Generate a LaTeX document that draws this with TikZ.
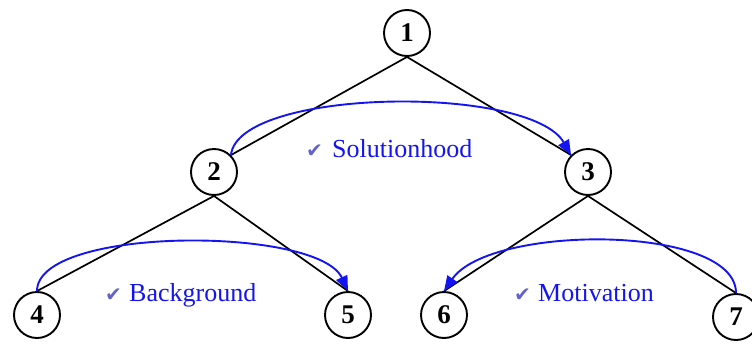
\documentclass[tikz,border=0pt]{standalone}
\usepackage{fontspec}
\setmainfont{Liberation Serif}
\newfontfamily\checkfont{DejaVu Sans}
\usetikzlibrary{arrows.meta}
\definecolor{checkc}{RGB}{100,100,200}
\definecolor{relblue}{RGB}{20,20,240}
\tikzset{
  treenode/.style={circle,draw=black,line width=1.9pt,minimum size=46pt,inner sep=0pt,
    font=\fontsize{27}{30}\selectfont\bfseries},
  treeedge/.style={draw=black,line width=1.7pt},
  relarrow/.style={draw=relblue,line width=1.9pt,-{Triangle[length=15pt,width=12pt]}},
  reltext/.style={anchor=base west,inner sep=0pt,text=relblue,font=\fontsize{26}{30}\selectfont},
  relcheck/.style={anchor=base east,inner sep=0pt,text=checkc,font=\checkfont\fontsize{20}{22}\selectfont}
}
\begin{document}
\begin{tikzpicture}[x=1pt,y=-1pt]
\useasboundingbox (0,0) rectangle (752,343);
% nodes
\node[treenode] (n1) at (407,33) {1};
\node[treenode] (n2) at (214,172) {2};
\node[treenode] (n3) at (588,172) {3};
\node[treenode] (n4) at (37,315) {4};
\node[treenode] (n5) at (348,315) {5};
\node[treenode] (n6) at (444,315) {6};
\node[treenode] (n7) at (736,317) {7};
% tree edges
\draw[treeedge] (n1.south) -- (n2.north east);
\draw[treeedge] (n1.south) -- (n3.north west);
\draw[treeedge] (n2.south) -- (n4.north);
\draw[treeedge] (n2.south) -- (n5.north);
\draw[treeedge] (n3.south) -- (n6.north);
\draw[treeedge] (n3.south) -- (n7.north);
% relation arrows
\draw[relarrow] (n2.north east) .. controls (238,88) and (530,84) .. (n3.north west);
\draw[relarrow] (n4.north) .. controls (37,226) and (318,226) .. (n5.north);
\draw[relarrow] (n7.north) .. controls (736,224) and (490,224) .. (n6.north);
% labels
\node[relcheck] (c1) at (323,157) {✔};
\node[reltext] (t1) at (332,157) {Solutionhood};
\node[relcheck] (c2) at (122,301) {✔};
\node[reltext] (t2) at (129,301) {Background};
\node[relcheck] (c3) at (531,301) {✔};
\node[reltext] (t3) at (538,301) {Motivation};
\end{tikzpicture}
\end{document}
